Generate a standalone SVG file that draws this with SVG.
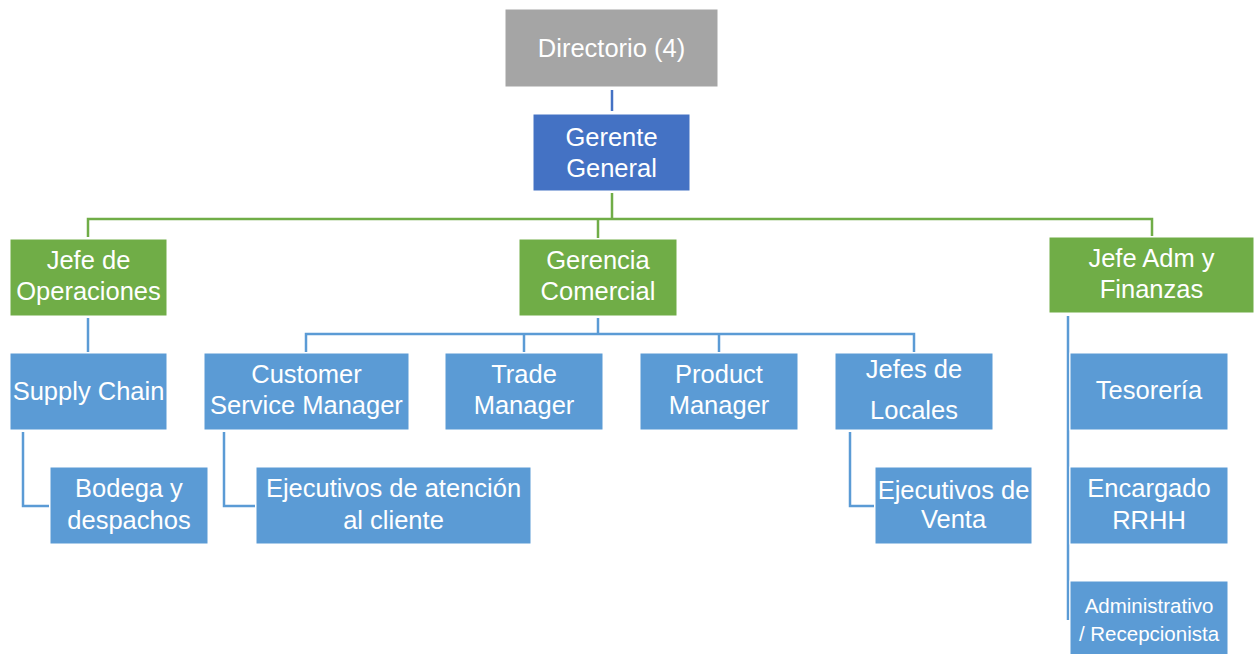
<svg xmlns="http://www.w3.org/2000/svg" width="1255" height="654" viewBox="0 0 1255 654">
<style>
text{font-family:"Liberation Sans",Arial,sans-serif;font-size:25.5px;fill:#fff;text-anchor:middle}
.gray{fill:#a5a5a5}.dblue{fill:#4472c4}.green{fill:#70ad47}.blue{fill:#5b9bd5}
rect{stroke:#fff;stroke-width:1}
.cg{stroke:#70ad47;stroke-width:2.5;fill:none}
.cb{stroke:#5b9bd5;stroke-width:2.5;fill:none}
.cd{stroke:#4472c4;stroke-width:2.5;fill:none}
.sm{font-size:20.5px}
</style>
<rect width="1255" height="654" fill="#fff" stroke="none"/>
<g id="connectors">
<path class="cd" d="M612 90V111"/>
<path class="cg" d="M612 193V219M88 237V219H1152V236M598 219V238"/>
<path class="cb" d="M88 318V352"/>
<path class="cb" d="M598 318V334M306 352V334H914V352M524 334V352M719 334V352"/>
<path class="cb" d="M23 432V506H49"/>
<path class="cb" d="M224 432V506H255"/>
<path class="cb" d="M850 432V506H874"/>
<path class="cb" d="M1068 316V620"/>
</g>
<g id="directorio"><rect class="gray" x="505" y="9" width="213" height="78"/><text x="611.5" y="57">Directorio (4)</text></g>
<g id="gerente"><rect class="dblue" x="533" y="114" width="157" height="77"/><text x="611.5" y="146">Gerente</text><text x="611.5" y="177">General</text></g>
<g id="jefe-operaciones"><rect class="green" x="10" y="239" width="157" height="77"/><text x="88.5" y="269">Jefe de</text><text x="88.5" y="300">Operaciones</text></g>
<g id="gerencia-comercial"><rect class="green" x="519" y="239" width="158" height="77"/><text x="598" y="269">Gerencia</text><text x="598" y="300">Comercial</text></g>
<g id="jefe-adm"><rect class="green" x="1049" y="237" width="205" height="76"/><text x="1151.5" y="267">Jefe Adm y</text><text x="1151.5" y="298">Finanzas</text></g>
<g id="supply-chain"><rect class="blue" x="10" y="353" width="157" height="77"/><text x="88.5" y="400">Supply Chain</text></g>
<g id="customer-service"><rect class="blue" x="204" y="353" width="205" height="77"/><text x="306.5" y="383">Customer</text><text x="306.5" y="414">Service Manager</text></g>
<g id="trade-manager"><rect class="blue" x="445" y="353" width="158" height="77"/><text x="524" y="383">Trade</text><text x="524" y="414">Manager</text></g>
<g id="product-manager"><rect class="blue" x="640" y="353" width="158" height="77"/><text x="719" y="383">Product</text><text x="719" y="414">Manager</text></g>
<g id="jefes-locales"><rect class="blue" x="835" y="353" width="158" height="77"/><text x="914" y="378">Jefes de</text><text x="914" y="419">Locales</text></g>
<g id="tesoreria"><rect class="blue" x="1070" y="353" width="158" height="77"/><text x="1149" y="399">Tesorería</text></g>
<g id="encargado-rrhh"><rect class="blue" x="1070" y="467" width="158" height="77"/><text x="1149" y="497">Encargado</text><text x="1149" y="529">RRHH</text></g>
<g id="administrativo"><rect class="blue" x="1070" y="581" width="158" height="78"/><text class="sm" x="1149" y="613">Administrativo</text><text class="sm" x="1149" y="641">/ Recepcionista</text></g>
<g id="bodega"><rect class="blue" x="50" y="467" width="158" height="77"/><text x="129" y="497">Bodega y</text><text x="129" y="529">despachos</text></g>
<g id="ejecutivos-atencion"><rect class="blue" x="256" y="467" width="275" height="77"/><text x="393.5" y="497">Ejecutivos de atención</text><text x="393.5" y="529">al cliente</text></g>
<g id="ejecutivos-venta"><rect class="blue" x="875" y="467" width="157" height="77"/><text x="953.5" y="499">Ejecutivos de</text><text x="953.5" y="528">Venta</text></g>
</svg>
